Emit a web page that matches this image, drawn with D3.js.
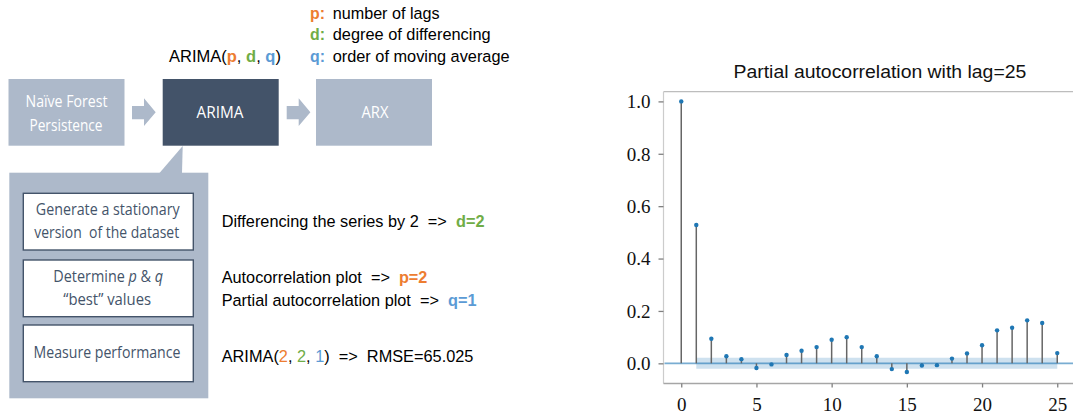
<!DOCTYPE html>
<html><head><meta charset="utf-8">
<script src="https://cdn.jsdelivr.net/npm/d3@7"></script>
<style>body{margin:0;background:#fff}svg{display:block}text{white-space:pre}</style>
</head><body>
<script>
// ---------- data ----------
const lags = d3.range(0, 26);
const pacf = [1.0, 0.528, 0.094, 0.027, 0.016, -0.018, -0.004, 0.032, 0.048, 0.062, 0.090, 0.100, 0.062,
  0.027, -0.022, -0.033, -0.008, -0.007, 0.018, 0.038, 0.069, 0.126, 0.136, 0.164, 0.154, 0.039];
const confBand = 0.021;
const yTicks = [0.0, 0.2, 0.4, 0.6, 0.8, 1.0];
const xTicks = [0, 5, 10, 15, 20, 25];
const chartTitle = "Partial autocorrelation with lag=25";

const pipeline = ["Naïve Forest\nPersistence", "ARIMA", "ARX"];
const paramLegend = [["p:", "number of lags"], ["d:", "degree of differencing"], ["q:", "order of moving average"]];
const steps = [
  [[{t:"Generate a stationary"}], [{t:"version  of the dataset"}]],
  [[{t:"Determine "},{t:"p",i:1},{t:" & "},{t:"q",i:1}], [{t:"“best” values"}]],
  [[{t:"Measure performance"}]]
];
const results = [
  [[{t:"Differencing the series by 2  =>  "},{t:"d=2",c:"d",b:1}]],
  [[{t:"Autocorrelation plot  =>  "},{t:"p=2",c:"p",b:1}],
   [{t:"Partial autocorrelation plot  =>  "},{t:"q=1",c:"q",b:1}]],
  [[{t:"ARIMA("},{t:"2",c:"p"},{t:", "},{t:"2",c:"d"},{t:", "},{t:"1",c:"q"},{t:")  =>  RMSE=65.025"}]]
];
const arimaLabel = [{t:"ARIMA("},{t:"p",c:"p",b:1},{t:", "},{t:"d",c:"d",b:1},{t:", "},{t:"q",c:"q",b:1},{t:")"}];

// ---------- styles ----------
const pc = {p:"#ed7d31", d:"#70ad47", q:"#5b9bd5"};
const light = "#adb9ca", dark = "#44546a";
const SANS = "'Liberation Sans', Arial, sans-serif";
const SERIF = "'Liberation Serif', 'Times New Roman', 'DejaVu Serif', serif";
const BOX = "'Open Sans', sans-serif";

const svg = d3.select("body").append("svg").attr("width", 1073).attr("height", 414);

// helper: draw segmented text, then scale horizontally to target width
function segText(parent, segs, x, y, width, opts) {
  const g = parent.append("g");
  const t = g.append("text").style("font-family", opts.font).attr("font-size", opts.size)
    .attr("fill", opts.fill || "#000");
  segs.forEach(s => {
    t.append("tspan").text(s.t)
      .attr("fill", s.c ? pc[s.c] : (opts.fill || "#000"))
      .attr("font-weight", s.b ? "bold" : null)
      .attr("font-style", s.i ? "italic" : null);
  });
  const w = t.node().getComputedTextLength();
  const s = width / w;
  let x0 = x;
  if (opts.anchor === "middle") x0 = x - width / 2;
  g.attr("transform", `translate(${x0},${y}) scale(${s},1)`);
  return g;
}

// ---------- pipeline ----------
const boxes = [{x:8.5, w:116, fill:light}, {x:162.7, w:116, fill:"#435369"}, {x:316, w:116, fill:light}];
const by = 79, bh = 66.7;
boxes.forEach((b, i) => {
  svg.append("rect").attr("x", b.x).attr("y", by).attr("width", b.w).attr("height", bh).attr("fill", b.fill);
});
const pipeLines = pipeline[0].split("\n");
segText(svg, [{t:pipeLines[0]}], 66.5, 106.5, 82, {font:BOX, size:15.5, fill:"#fff", anchor:"middle"});
segText(svg, [{t:pipeLines[1]}], 66, 130.5, 73, {font:BOX, size:15.5, fill:"#fff", anchor:"middle"});
segText(svg, [{t:pipeline[1]}], 220, 118, 47, {font:BOX, size:15.5, fill:"#fff", anchor:"middle"});
segText(svg, [{t:pipeline[2]}], 375, 118, 27, {font:BOX, size:15.5, fill:"#fff", anchor:"middle"});

// arrows
[132, 286.7].forEach(ax => {
  const pts = [[ax,106],[ax+12,106],[ax+12,98.3],[ax+23.7,112.2],[ax+12,126],[ax+12,119.3],[ax,119.3]];
  svg.append("polygon").attr("points", pts.map(p => p.join(",")).join(" ")).attr("fill", light);
});

// ARIMA(p, d, q)
segText(svg, arimaLabel, 169, 62, 112, {font:SANS, size:17});
// legend
const legendWidths = [107, 158, 177];
paramLegend.forEach((p, i) => {
  const yy = 18.5 + i * 21.8;
  segText(svg, [{t:p[0], c:p[0][0], b:1}], 310, yy, 15, {font:SANS, size:17});
  segText(svg, [{t:p[1]}], 332.7, yy, legendWidths[i], {font:SANS, size:17});
});

// callout
svg.append("rect").attr("x", 9.3).attr("y", 172.7).attr("width", 199).attr("height", 225.6).attr("fill", light);
svg.append("polygon").attr("points", "182.7,146 182,173 159.5,173").attr("fill", light);
const stepBoxes = [[193.3, 250], [260, 316.7], [325, 381.7]];
const stepLines = [[[215, 144, 107.8],[238.3, 145, 106.7]], [[281.7, 110, 108.3],[305, 88, 107.2]], [[358, 147, 107]]];
stepBoxes.forEach((b, i) => {
  svg.append("rect").attr("x", 23.3).attr("y", b[0]).attr("width", 170).attr("height", b[1]-b[0])
    .attr("fill", "#fff").attr("stroke", dark).attr("stroke-width", 1.4);
  steps[i].forEach((line, j) => {
    const [yy, w, cx] = stepLines[i][j];
    segText(svg, line, cx, yy, w, {font:BOX, size:15.5, fill:dark, anchor:"middle"});
  });
});

// results text
const resLines = [[[227.3, 263]], [[283.3, 206],[305.5, 255]], [[361.7, 252]]];
results.forEach((grp, i) => {
  grp.forEach((line, j) => {
    const [yy, w] = resLines[i][j];
    segText(svg, line, 221.7, yy, w, {font:SANS, size:17});
  });
});

// ---------- PACF chart ----------
const x = d3.scaleLinear().domain([-1.18, 26.3]).range([663.5, 1076.8]);
const y = d3.scaleLinear().domain([-0.077, 1.037]).range([383.5, 91.7]);
const ch = svg.append("g");
const yTop = y(1.037), yBot = y(-0.077);
// spines
ch.append("line").attr("x1", 663.5).attr("x2", 1073).attr("y1", yTop).attr("y2", yTop).attr("stroke", "#bdbdbd").attr("stroke-width", 1.2);
ch.append("line").attr("x1", 663.5).attr("x2", 663.5).attr("y1", yTop).attr("y2", yBot).attr("stroke", "#cccccc").attr("stroke-width", 1.2);
ch.append("line").attr("x1", 663.5).attr("x2", 1073).attr("y1", yBot).attr("y2", yBot).attr("stroke", "#a6a6a6").attr("stroke-width", 1.4);

// y axis
const yAxis = d3.axisLeft(y).tickValues(yTicks).tickFormat(d3.format(".1f")).tickSize(5).tickPadding(8);
const gy = ch.append("g").attr("transform", "translate(663.5,0)").call(yAxis);
gy.select(".domain").remove();
gy.selectAll(".tick line").attr("stroke", "#808080").attr("stroke-width", 1.3);
gy.selectAll(".tick text").style("font-family", SERIF).style("font-size", "19px").attr("fill", "#111").attr("x", -13).attr("dy", "0.33em");

const xAxis = d3.axisBottom(x).tickValues(xTicks).tickFormat(d3.format("d")).tickSize(4).tickPadding(10);
const gx = ch.append("g").attr("transform", `translate(0,${yBot})`).call(xAxis);
gx.select(".domain").remove();
gx.selectAll(".tick line").attr("stroke", "#808080").attr("stroke-width", 1.3);
gx.selectAll(".tick text").style("font-family", SERIF).style("font-size", "19px").attr("fill", "#111").attr("y", 411 - yBot).attr("dy", 0);

// confidence band
ch.append("path").datum(lags.slice(1))
  .attr("d", d3.area().x(d => x(d)).y0(y(-confBand)).y1(y(confBand)))
  .attr("fill", "#1f77b4").attr("fill-opacity", 0.22);
// zero line
ch.append("line").attr("x1", 664.5).attr("x2", 1073).attr("y1", y(0)).attr("y2", y(0))
  .attr("stroke", "#1f77b4").attr("stroke-opacity", 0.6).attr("stroke-width", 1.6);
// stems
ch.selectAll(".stem").data(lags).enter().append("line")
  .attr("x1", d => x(d)).attr("x2", d => x(d)).attr("y1", y(0)).attr("y2", d => y(pacf[d]))
  .attr("stroke", "#666").attr("stroke-width", 1.5);
ch.selectAll(".dot").data(lags).enter().append("circle")
  .attr("cx", d => x(d)).attr("cy", d => y(pacf[d])).attr("r", 2.2).attr("fill", "#1f77b4");

// title
segText(ch, [{t:chartTitle}], 880, 78, 293, {font:SANS, size:17.5, fill:"#111", anchor:"middle"});
</script>
</body></html>
